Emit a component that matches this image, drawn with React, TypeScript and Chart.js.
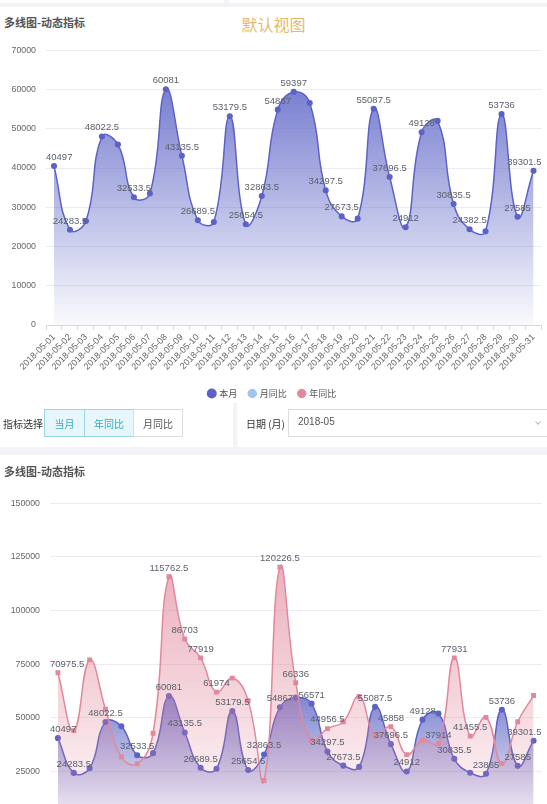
import React, { useEffect, useRef } from 'react';
import { Chart, registerables } from 'chart.js';

Chart.register(...registerables);

// ---------- data ----------
const dates = [
  '2018-05-01', '2018-05-02', '2018-05-03', '2018-05-04', '2018-05-05', '2018-05-06', '2018-05-07',
  '2018-05-08', '2018-05-09', '2018-05-10', '2018-05-11', '2018-05-12', '2018-05-13', '2018-05-14',
  '2018-05-15', '2018-05-16', '2018-05-17', '2018-05-18', '2018-05-19', '2018-05-20', '2018-05-21',
  '2018-05-22', '2018-05-23', '2018-05-24', '2018-05-25', '2018-05-26', '2018-05-27', '2018-05-28',
  '2018-05-29', '2018-05-30', '2018-05-31',
];

// 本月
const thisMonth = [
  40497, 24283.5, 26500, 48022.5, 46000, 32533.5, 33500, 60081, 43135.5, 26689.5, 26250,
  53179.5, 25654.5, 32863.5, 54867, 59397, 56571, 34297.5, 27673.5, 27100, 55087.5,
  37696.5, 24912, 49128, 52000, 30835.5, 24382.5, 23865, 53736, 27585, 39301.5,
];

// 年同比
const yearOnYear = [
  70975.5, 44000, 77000, 54000, 31800, 28500, 42800, 115762.5, 86703, 77919, 61974,
  68500, 58000, 20800, 120226.5, 66336, 39500, 44956.5, 48150, 59900, 41900,
  45858, 32830, 39540, 37914, 77931, 41455.5, 50200, 28600, 48150, 60360,
];

// 月同比 (no values shown)
const monthOnMonth: number[] = [];

// which points carry a value label
const topLabelIdx = [0, 1, 3, 5, 7, 8, 9, 11, 12, 13, 14, 15, 17, 18, 20, 21, 22, 23, 25, 26, 28, 29, 30];
const bottomBlueLabelIdx = [0, 1, 3, 5, 7, 8, 9, 11, 12, 13, 14, 16, 17, 18, 20, 21, 22, 23, 25, 27, 28, 29, 30];
const bottomPinkLabelIdx = [0, 7, 8, 9, 10, 14, 15, 17, 21, 24, 25, 26];

const topYMax = 70000;
const topYStep = 10000;
const bottomYMax = 150000;
const bottomYStep = 25000;

// ---------- styles ----------
const FONT = "'Liberation Sans', 'Noto Sans CJK SC', sans-serif";
const CJK = "'Noto Sans CJK SC', 'Liberation Sans', sans-serif";
const BLUE = '#5c63c6';
const BLUE_RGB = '92,99,198';
const PINK = '#e0899c';
const PINK_RGB = '224,128,150';
const LIGHT_BLUE = '#9cc7ea';

function areaGradient(rgb: string, a0: number, a1: number) {
  return (ctx: any) => {
    const chart = ctx.chart;
    const area = chart.chartArea;
    if (!area) return `rgba(${rgb},${a0})`;
    const ds = chart.data.datasets[ctx.datasetIndex];
    const vals = (ds.data as number[]) || [];
    if (!vals.length) return `rgba(${rgb},${a0})`;
    const top = chart.scales.y.getPixelForValue(Math.max(...vals));
    const g = chart.ctx.createLinearGradient(0, top, 0, area.bottom);
    g.addColorStop(0, `rgba(${rgb},${a0})`);
    g.addColorStop(1, `rgba(${rgb},${a1})`);
    return g;
  };
}

const valueLabelPlugin = {
  id: 'valueLabels',
  afterDatasetsDraw(chart: any) {
    const ctx = chart.ctx;
    const area = chart.chartArea;
    ctx.save();
    ctx.font = `9.5px ${FONT}`;
    ctx.fillStyle = '#5b616c';
    ctx.textAlign = 'left';
    ctx.textBaseline = 'bottom';
    chart.data.datasets.forEach((ds: any, i: number) => {
      const idx: number[] | undefined = ds.labelIdx;
      if (!idx) return;
      const meta = chart.getDatasetMeta(i);
      idx.forEach((j) => {
        const el = meta.data[j];
        if (!el) return;
        const txt = String(ds.data[j]);
        const w = ctx.measureText(txt).width;
        let left = el.x - w / 2;
        if (left < area.left) left = area.left;
        if (left + w > area.right) left = area.right - w;
        ctx.fillText(txt, left, el.y - 4);
      });
    });
    ctx.restore();
  },
};

function makeScales(yMax: number, yStep: number, yWidth: number, xHeight: number) {
  return {
    x: {
      type: 'category' as const,
      offset: true,
      grid: {
        display: true,
        drawOnChartArea: false,
        drawTicks: true,
        tickLength: 5,
        offset: true,
        color: '#d8d8de',
      },
      border: { display: true, color: '#d8d8de' },
      ticks: {
        autoSkip: false,
        minRotation: 45,
        maxRotation: 45,
        padding: 2,
        color: '#666',
        font: { size: 9, family: FONT },
      },
      afterFit: (s: any) => {
        s.height = xHeight;
      },
    },
    y: {
      min: 0,
      max: yMax,
      ticks: {
        stepSize: yStep,
        padding: 10,
        color: '#666',
        font: { size: 8.8, family: FONT },
        callback: (v: any) => String(v),
      },
      grid: { color: '#ebebf1', drawTicks: false },
      border: { display: false },
      afterFit: (s: any) => {
        s.width = yWidth;
      },
    },
  };
}

const legendOpts = {
  display: true,
  position: 'bottom' as const,
  labels: {
    usePointStyle: true,
    pointStyle: 'circle',
    boxWidth: 6,
    boxHeight: 6,
    padding: 12,
    color: '#555',
    font: { size: 9, family: CJK },
  },
};

export default function App() {
  const c1 = useRef<HTMLCanvasElement>(null);
  const c2 = useRef<HTMLCanvasElement>(null);

  useEffect(() => {
    document.body.style.margin = '0';

    const ch1 = new Chart(c1.current as HTMLCanvasElement, {
      type: 'line',
      data: {
        labels: dates,
        datasets: [
          {
            label: '本月',
            data: thisMonth,
            borderColor: BLUE,
            borderWidth: 1.5,
            pointRadius: 2.3,
            pointBackgroundColor: BLUE,
            pointBorderColor: BLUE,
            pointStyle: 'circle',
            tension: 0.45,
            fill: 'origin',
            backgroundColor: areaGradient(BLUE_RGB, 0.82, 0.03),
            labelIdx: topLabelIdx,
          } as any,
          {
            label: '月同比',
            data: monthOnMonth,
            borderColor: LIGHT_BLUE,
            backgroundColor: LIGHT_BLUE,
            pointBackgroundColor: LIGHT_BLUE,
          },
          {
            label: '年同比',
            data: [] as number[],
            borderColor: PINK,
            backgroundColor: PINK,
            pointBackgroundColor: PINK,
          },
        ],
      },
      options: {
        responsive: false,
        animation: false,
        layout: { padding: { top: 13, right: 2, left: 0, bottom: 9 } },
        scales: makeScales(topYMax, topYStep, 46, 52) as any,
        plugins: {
          legend: legendOpts as any,
          tooltip: { enabled: false },
        },
      },
      plugins: [valueLabelPlugin],
    });

    const ch2 = new Chart(c2.current as HTMLCanvasElement, {
      type: 'line',
      data: {
        labels: dates,
        datasets: [
          {
            label: '本月',
            data: thisMonth,
            order: 2,
            borderColor: BLUE,
            borderWidth: 1.5,
            pointRadius: 2.3,
            pointBackgroundColor: BLUE,
            pointBorderColor: BLUE,
            pointStyle: 'circle',
            tension: 0.45,
            fill: 'origin',
            backgroundColor: areaGradient(BLUE_RGB, 0.78, 0.03),
            labelIdx: bottomBlueLabelIdx,
          } as any,
          {
            label: '月同比',
            data: monthOnMonth,
            order: 3,
            borderColor: LIGHT_BLUE,
            backgroundColor: LIGHT_BLUE,
          },
          {
            label: '年同比',
            data: yearOnYear,
            order: 1,
            borderColor: PINK,
            borderWidth: 1.5,
            pointRadius: 2.4,
            pointStyle: 'rect',
            pointBackgroundColor: PINK,
            pointBorderColor: PINK,
            tension: 0.45,
            fill: 'origin',
            backgroundColor: areaGradient(PINK_RGB, 0.62, 0.04),
            labelIdx: bottomPinkLabelIdx,
          } as any,
        ],
      },
      options: {
        responsive: false,
        animation: false,
        layout: { padding: { top: 13, right: 4, left: 0, bottom: 6 } },
        scales: makeScales(bottomYMax, bottomYStep, 50, 55) as any,
        plugins: {
          legend: legendOpts as any,
          tooltip: { enabled: false },
        },
      },
      plugins: [valueLabelPlugin],
    });

    return () => {
      ch1.destroy();
      ch2.destroy();
    };
  }, []);

  const abs = (s: React.CSSProperties): React.CSSProperties => ({ position: 'absolute', ...s });
  const btnBase: React.CSSProperties = {
    position: 'absolute',
    top: 0,
    height: 28,
    lineHeight: '28px',
    textAlign: 'center',
    fontSize: 10,
    fontFamily: CJK,
    boxSizing: 'border-box',
  };

  return (
    <div
      style={{
        position: 'relative',
        width: 547,
        height: 804,
        overflow: 'hidden',
        background: '#f2f3f7',
        fontFamily: CJK,
      }}
    >
      {/* remnants of cards above */}
      <div style={abs({ left: 0, top: 0, width: 224, height: 3, background: '#fff' })} />
      <div style={abs({ left: 229, top: 0, width: 318, height: 3, background: '#fff' })} />

      {/* card 1 */}
      <div style={abs({ left: 0, top: 7, width: 547, height: 396, background: '#fff' })} />
      <div style={abs({ left: 0, top: 403, width: 233, height: 44, background: '#fff' })} />
      <div style={abs({ left: 237, top: 403, width: 310, height: 44, background: '#fff' })} />

      <div
        style={abs({ left: 4, top: 14, fontSize: 11, fontWeight: 'bold', color: '#555', whiteSpace: 'nowrap' })}
      >
        多线图-动态指标
      </div>
      <div style={abs({ left: 0, top: 12, width: 547, textAlign: 'center', fontSize: 16, color: '#e8b96c' })}>
        默认视图
      </div>

      <canvas ref={c1} width={547} height={382} style={abs({ left: 0, top: 35, width: 547, height: 382 })} />

      {/* controls */}
      <div style={abs({ left: 3, top: 416, fontSize: 10, color: '#333', whiteSpace: 'nowrap' })}>指标选择</div>
      <div style={abs({ left: 44, top: 409, width: 139, height: 28 })}>
        <div
          style={{
            ...btnBase,
            left: 0,
            width: 41,
            background: '#e6f6fa',
            border: '1px solid #9fd6e4',
            color: '#3aa7c2',
          }}
        >
          当月
        </div>
        <div
          style={{
            ...btnBase,
            left: 40,
            width: 50,
            background: '#e6f6fa',
            border: '1px solid #9fd6e4',
            color: '#3aa7c2',
          }}
        >
          年同比
        </div>
        <div
          style={{
            ...btnBase,
            left: 89,
            width: 50,
            background: '#fff',
            border: '1px solid #dcdce0',
            color: '#555',
          }}
        >
          月同比
        </div>
      </div>

      <div style={abs({ left: 246, top: 416, fontSize: 10, color: '#333', whiteSpace: 'nowrap' })}>日期 (月)</div>
      <div
        style={abs({
          left: 288,
          top: 409,
          width: 262,
          height: 28,
          border: '1px solid #dcdce0',
          boxSizing: 'border-box',
          background: '#fff',
        })}
      >
        <div style={abs({ left: 9, top: 6, fontSize: 10, color: '#555', fontFamily: FONT })}>2018-05</div>
        <div
          style={abs({
            left: 247,
            top: 10,
            width: 3,
            height: 3,
            borderRight: '1px solid #bbb',
            borderBottom: '1px solid #bbb',
            transform: 'rotate(45deg)',
          })}
        />
      </div>

      {/* card 2 */}
      <div style={abs({ left: 0, top: 455, width: 547, height: 349, background: '#fff' })} />
      <div
        style={abs({ left: 4, top: 463, fontSize: 11, fontWeight: 'bold', color: '#555', whiteSpace: 'nowrap' })}
      >
        多线图-动态指标
      </div>
      <canvas ref={c2} width={547} height={429} style={abs({ left: 0, top: 488, width: 547, height: 429 })} />
    </div>
  );
}
